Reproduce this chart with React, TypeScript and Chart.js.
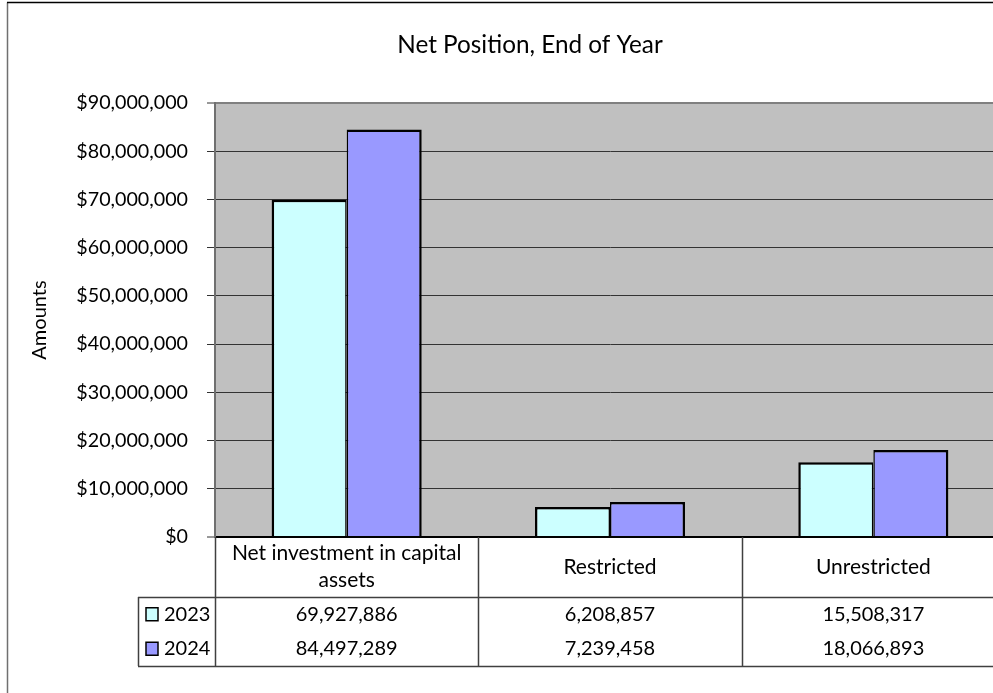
import React, { useEffect, useRef } from "react";
import { Chart, registerables } from "chart.js";

Chart.register(...registerables);

// ---- data ----
const categories: string[][] = [["Net investment in capital", "assets"], ["Restricted"], ["Unrestricted"]];
const seriesNames: string[] = ["2023", "2024"];
const values2023: number[] = [69927886, 6208857, 15508317];
const values2024: number[] = [84497289, 7239458, 18066893];
const seriesColors: string[] = ["#CCFFFF", "#9999FF"];
const yMin = 0;
const yMax = 90000000;
const yStep = 10000000;
const chartTitle = "Net Position, End of Year";
const yAxisTitle = "Amounts";

const FONT = "Lato, 'Open Sans', sans-serif";
const seriesValues = [values2023, values2024];

const fmtMoney = (v: number) => "$" + Number(v).toLocaleString("en-US");
const fmtNum = (v: number) => Number(v).toLocaleString("en-US");

const backgroundPlugin = {
  id: "bgPlugin",
  beforeDraw(chart: any) {
    const { ctx, chartArea } = chart;
    ctx.save();
    ctx.fillStyle = "#FFFFFF";
    ctx.fillRect(0, 0, chart.width, chart.height);
    ctx.fillStyle = "#C0C0C0";
    ctx.fillRect(chartArea.left, chartArea.top, chartArea.right - chartArea.left, chartArea.bottom - chartArea.top);
    // outer frame
    ctx.lineWidth = 1.5;
    ctx.strokeStyle = "#707070";
    ctx.beginPath();
    ctx.moveTo(7.5, 2.5);
    ctx.lineTo(7.5, chart.height + 10);
    ctx.stroke();
    ctx.strokeStyle = "#000000";
    ctx.beginPath();
    ctx.moveTo(7, 2.5);
    ctx.lineTo(chart.width + 10, 2.5);
    ctx.stroke();
    ctx.restore();
  },
};

const titlePlugin = {
  id: "titlePlugin",
  afterDraw(chart: any) {
    const { ctx } = chart;
    ctx.save();
    ctx.fillStyle = "#000";
    ctx.font = `24.3px ${FONT}`;
    ctx.textAlign = "center";
    ctx.textBaseline = "middle";
    ctx.fillText(chartTitle, 530, 45);
    ctx.restore();
  },
};

const tablePlugin = {
  id: "tablePlugin",
  afterDraw(chart: any) {
    const { ctx, chartArea } = chart;
    const xs = chart.scales.x;
    const top = chartArea.bottom;
    const headerBottom = top + 60;
    const rowH = 34.5;
    const tableBottom = headerBottom + rowH * seriesNames.length;
    const legendLeft = 138;
    const centers = categories.map((_, i) => xs.getPixelForValue(i));
    const bounds: number[] = [chartArea.left];
    for (let i = 0; i < centers.length - 1; i++) bounds.push((centers[i] + centers[i + 1]) / 2);
    bounds.push(chartArea.right);

    ctx.save();
    ctx.strokeStyle = "#404040";
    ctx.lineWidth = 1.5;
    ctx.beginPath();
    bounds.forEach((bx) => {
      const px = Math.round(bx) + 0.5;
      ctx.moveTo(px, top);
      ctx.lineTo(px, tableBottom);
    });
    ctx.moveTo(legendLeft, headerBottom + 0.5);
    ctx.lineTo(chartArea.right, headerBottom + 0.5);
    ctx.moveTo(legendLeft, tableBottom + 0.5);
    ctx.lineTo(chartArea.right, tableBottom + 0.5);
    ctx.moveTo(legendLeft + 0.5, headerBottom);
    ctx.lineTo(legendLeft + 0.5, tableBottom);
    ctx.stroke();

    ctx.fillStyle = "#000";
    ctx.font = `21px ${FONT}`;
    ctx.textAlign = "center";
    ctx.textBaseline = "middle";
    const lineH = 27;
    categories.forEach((lines, i) => {
      const midY = (top + headerBottom) / 2;
      lines.forEach((ln, j) => {
        ctx.fillText(ln, centers[i], midY + (j - (lines.length - 1) / 2) * lineH);
      });
    });

    ctx.font = `20px ${FONT}`;
    seriesNames.forEach((name, s) => {
      const cy = headerBottom + rowH * s + rowH / 2;
      seriesValues[s].forEach((v, i) => {
        ctx.textAlign = "center";
        ctx.fillText(fmtNum(v), centers[i], cy);
      });
      // legend key
      ctx.fillStyle = seriesColors[s];
      ctx.fillRect(legendLeft + 8, cy - 6.5, 12, 13);
      ctx.strokeStyle = "#000";
      ctx.lineWidth = 1.5;
      ctx.strokeRect(legendLeft + 8, cy - 6.5, 12, 13);
      ctx.fillStyle = "#000";
      ctx.textAlign = "left";
      ctx.fillText(name, legendLeft + 26, cy);
    });
    ctx.restore();
  },
};

export default function App() {
  const canvasRef = useRef<HTMLCanvasElement | null>(null);

  useEffect(() => {
    const canvas = canvasRef.current;
    if (!canvas) return;
    const chart = new Chart(canvas, {
      type: "bar",
      data: {
        labels: categories.map((c) => c.join(" ")),
        datasets: [
          {
            label: seriesNames[0],
            data: values2023,
            backgroundColor: seriesColors[0],
            borderColor: "#000000",
            borderWidth: { top: 2.5, left: 2.5, right: 1.5, bottom: 0 },
            borderSkipped: false,
          },
          {
            label: seriesNames[1],
            data: values2024,
            backgroundColor: seriesColors[1],
            borderColor: "#000000",
            borderWidth: { top: 2.5, left: 1.5, right: 2.5, bottom: 0 },
            borderSkipped: false,
          },
        ],
      },
      options: {
        responsive: false,
        animation: false,
        devicePixelRatio: 1,
        categoryPercentage: 0.57,
        barPercentage: 1.0,
        layout: { padding: { top: 103, bottom: 156, left: 0, right: 15 } },
        plugins: {
          legend: { display: false },
          title: { display: false },
          tooltip: { enabled: false },
        },
        scales: {
          x: { display: false },
          y: {
            min: yMin,
            max: yMax,
            ticks: {
              stepSize: yStep,
              color: "#000",
              font: { family: FONT, size: 19.7 },
              padding: 19,
              callback: (v: any) => fmtMoney(v),
            },
            grid: {
              color: (c: any) => (c.tick && c.tick.value === yMax ? "#808080" : c.tick && c.tick.value === 0 ? "#000000" : "#333333"),
              lineWidth: (c: any) => (c.tick && (c.tick.value === yMax || c.tick.value === 0) ? 2 : 1),
              tickLength: 8,
              tickColor: "#333333",
              tickWidth: 1,
            },
            border: { display: true, color: "#707070", width: 2 },
            title: {
              display: true,
              text: yAxisTitle,
              color: "#000",
              font: { family: FONT, size: 20 },
              padding: { top: 28, bottom: 0 },
            },
            afterFit: (s: any) => {
              s.width = 215;
            },
          },
        },
      },
      plugins: [backgroundPlugin, titlePlugin, tablePlugin],
    } as any);
    return () => chart.destroy();
  }, []);

  return (
    <canvas
      ref={canvasRef}
      width={1020}
      height={693}
      style={{ position: "fixed", left: 0, top: 0, width: 1020, height: 693, display: "block" }}
    />
  );
}
